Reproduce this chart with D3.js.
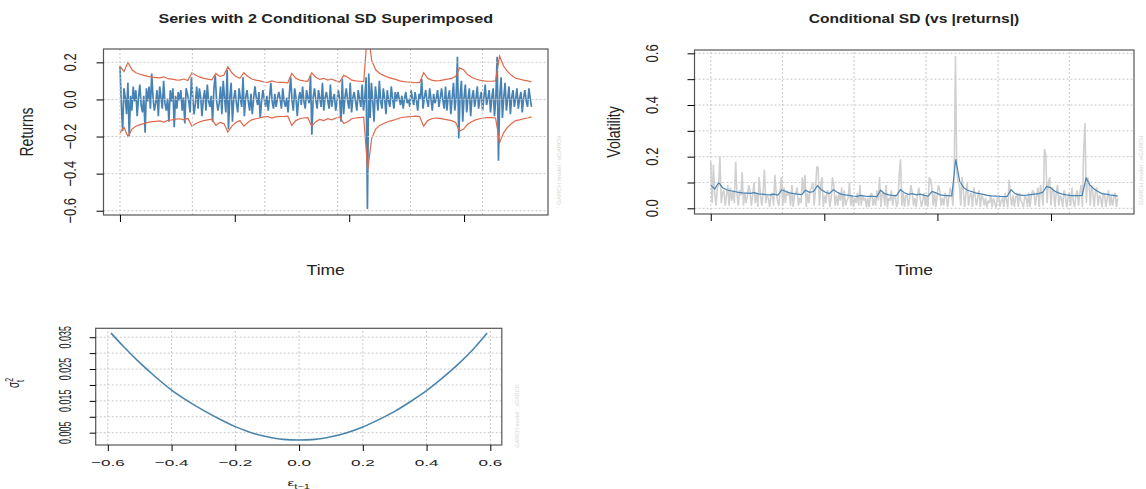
<!DOCTYPE html>
<html>
<head>
<meta charset="utf-8">
<script src="https://cdn.jsdelivr.net/npm/d3@7"></script>
<style>
  body { margin: 0; background: #fff; }
  svg { display: block; font-family: "Liberation Sans", Arial, sans-serif; }
</style>
</head>
<body>
<div id="chart"></div>
<script>
const sigma = [
  0.090,0.075,0.100,0.080,0.072,0.068,0.065,0.062,0.060,0.059,
  0.058,0.061,0.056,0.055,0.053,0.052,0.055,0.051,0.072,0.065,
  0.060,0.057,0.055,0.053,0.070,0.062,0.065,0.088,0.072,0.062,
  0.057,0.072,0.062,0.055,0.052,0.050,0.047,0.046,0.050,0.047,
  0.046,0.046,0.045,0.070,0.057,0.052,0.050,0.049,0.072,0.060,
  0.054,0.057,0.052,0.055,0.050,0.047,0.065,0.060,0.052,0.050,
  0.049,0.048,0.190,0.105,0.080,0.070,0.065,0.060,0.057,0.054,
  0.050,0.048,0.047,0.046,0.045,0.046,0.072,0.057,0.052,0.050,
  0.051,0.053,0.055,0.057,0.062,0.085,0.080,0.067,0.060,0.055,
  0.052,0.050,0.049,0.049,0.050,0.117,0.090,0.075,0.065,0.057,
  0.055,0.052,0.050,0.047
];

// returns (three per sigma step)
const returns = [
  0.18,-0.02,-0.17, 0.06,0.01,-0.08, 0.09,-0.20,0.02, -0.06,0.07,-0.01, 0.05,-0.09,0.01,
  0.08,-0.03,-0.07, 0.02,-0.18,0.06, -0.01,0.07,-0.05, 0.14,0.01,-0.06, -0.02,0.05,-0.09,
  0.07,0.01,-0.05, 0.10,-0.02,-0.06, 0.005,-0.12,0.05, -0.01,0.06,-0.15, 0.02,-0.05,0.04,
  -0.005,0.05,-0.06, 0.01,-0.13,0.06, 0.03,-0.01,-0.07, 0.12,0.01,-0.08, -0.02,0.07,-0.05,
  0.06,0.01,-0.09, 0.005,0.05,-0.06, 0.08,-0.01,-0.04, 0.02,-0.12,0.06, 0.13,-0.005,-0.06,
  -0.02,0.07,-0.08, 0.10,0.01,-0.07, 0.16,-0.16,0.01, 0.09,-0.12,0.005, 0.05,-0.02,-0.07,
  0.06,0.005,-0.04, 0.12,-0.09,0.01, 0.05,-0.01,-0.06, 0.03,-0.08,0.005, 0.07,0.01,-0.03,
  0.04,-0.10,-0.01, 0.05,0.005,-0.04, 0.02,-0.06,0.01, 0.09,-0.01,-0.05, 0.03,-0.04,0.005,
  0.04,0.005,-0.05, 0.06,-0.01,-0.04, 0.01,-0.07,0.03, 0.12,-0.005,-0.06, 0.06,0.01,-0.09,
  0.004,0.04,-0.03, 0.07,-0.01,-0.05, 0.05,0.005,-0.02, 0.13,-0.19,0.01, 0.06,-0.005,-0.05,
  0.05,0.008,-0.04, 0.09,-0.06,0.01, 0.04,-0.005,-0.05, 0.08,-0.04,0.006, 0.03,-0.06,-0.01,
  0.05,0.005,-0.12, 0.11,-0.08,0.01, 0.06,-0.005,-0.05, 0.09,-0.07,0.01, 0.04,-0.01,-0.06,
  0.05,0.005,-0.04, 0.08,-0.06,0.01, 0.12,-0.59,0.14, -0.10,0.09,-0.01, -0.12,0.07,0.005,
  -0.06,0.10,-0.01, -0.05,0.06,0.005, -0.08,0.05,-0.01, -0.04,0.07,0.005, -0.05,0.04,-0.01,
  0.04,0.005,-0.03, 0.02,-0.05,0.004, 0.04,-0.02,0.003, -0.04,0.05,0.006, -0.03,0.04,-0.005,
  -0.06,0.03,0.004, 0.11,-0.05,0.01, 0.05,-0.006,-0.04, 0.06,0.005,-0.06, 0.03,-0.02,0.004,
  0.05,-0.04,0.006, 0.06,-0.005,-0.05, 0.07,-0.06,0.01, 0.05,-0.08,0.005, 0.09,-0.06,0.01,
  0.23,-0.21,0.02, 0.10,-0.12,0.01, 0.08,-0.07,0.005, 0.06,-0.09,0.01, 0.05,-0.04,0.005,
  0.07,-0.05,0.004, 0.04,-0.06,0.01, 0.08,-0.03,0.005, 0.05,-0.07,0.01, 0.06,-0.09,0.005,
  0.23,-0.33,0.02, 0.12,-0.10,0.01, 0.09,-0.06,0.005, 0.07,-0.08,0.01, 0.05,-0.04,0.004,
  0.06,-0.05,0.005, 0.04,-0.07,0.01, 0.05,-0.01,-0.04, 0.06,0.005,-0.04
];

// time axis: tick and grid positions as sample fractions
const timeTicks = [0, 0.279, 0.557, 0.836];
const timeGrid = [0, 0.176, 0.352, 0.529, 0.706, 0.881];

const retTicks = [-0.6, -0.4, -0.2, 0.0, 0.2];
const volTicks = [0, 0.1, 0.2, 0.3, 0.4, 0.5, 0.6];
const volLabels = [0, 0.2, 0.4, 0.6];

// news impact curve
const nicEps = [-0.59,-0.55,-0.5,-0.45,-0.4,-0.35,-0.3,-0.25,-0.2,-0.15,-0.1,-0.05,0,
                0.05,0.1,0.15,0.2,0.25,0.3,0.35,0.4,0.45,0.5,0.55,0.59];
const nicVar = [0.0363,0.0320,0.0270,0.0225,0.0184,0.0150,0.0120,0.0093,0.0069,0.0050,0.0037,0.0029,0.0027,
                0.0029,0.0037,0.0050,0.0068,0.0091,0.0117,0.0148,0.0182,0.0222,0.0266,0.0316,0.0363];
const epsTicks = [-0.6, -0.4, -0.2, 0.0, 0.2, 0.4, 0.6];
const varTicks = [0.005, 0.010, 0.015, 0.020, 0.025, 0.030, 0.035];
const varLabels = [0.005, 0.015, 0.025, 0.035];

const W = 1146, H = 489;
const blue = "#4682b4", red = "#e0684a", gridCol = "#c8c8c8";

const svg = d3.select("#chart").append("svg")
    .attr("width", W)
    .attr("height", H);

// text helper, the picture is stretched sideways so glyphs get an x scale
function label(g, x, y, txt, o) {
    const t = g.append("text")
        .attr("transform", `translate(${x},${y}) scale(${o.sx || 1},1)` + (o.rot ? " rotate(-90)" : ""))
        .attr("text-anchor", o.anchor || "middle")
        .style("font-size", o.size + "px")
        .style("font-weight", o.bold ? "bold" : "normal")
        .attr("fill", o.fill || "#222");
    if (typeof txt === "string") t.text(txt);
    else txt(t);
    return t;
}

function panel(id, x, y) {
    const g = svg.append("g");
    g.append("clipPath").attr("id", id)
      .append("rect")
        .attr("x", x.range()[0]).attr("y", y.range()[1])
        .attr("width", x.range()[1] - x.range()[0])
        .attr("height", y.range()[0] - y.range()[1]);
    return g;
}

function drawGrid(g, x, y, xs, ys, id) {
    const gg = g.append("g").attr("clip-path", `url(#${id})`);
    gg.selectAll(".vg").data(xs).enter().append("line")
        .attr("x1", d => x(d)).attr("x2", d => x(d))
        .attr("y1", y.range()[0]).attr("y2", y.range()[1])
        .attr("stroke", gridCol).attr("stroke-dasharray", "2,2");
    gg.selectAll(".hg").data(ys).enter().append("line")
        .attr("y1", d => y(d)).attr("y2", d => y(d))
        .attr("x1", x.range()[0]).attr("x2", x.range()[1])
        .attr("stroke", gridCol).attr("stroke-dasharray", "2,2");
}

function drawBox(g, x, y) {
    g.append("rect")
        .attr("x", x.range()[0]).attr("y", y.range()[1])
        .attr("width", x.range()[1] - x.range()[0])
        .attr("height", y.range()[0] - y.range()[1])
        .attr("fill", "none").attr("stroke", "#555").attr("stroke-width", 1.2);
}

const tS = i => i / (sigma.length - 1);
const tR = i => i / (returns.length - 1);

// ---------------- panel 1: series with 2 conditional sd ----------------
{
    const x = d3.scaleLinear().domain([-0.04, 1.04]).range([103.5, 548]);
    const y = d3.scaleLinear().domain([-0.623, 0.272]).range([215, 49]);
    const g = panel("clip1", x, y);
    const inner = g.append("g").attr("clip-path", "url(#clip1)");

    inner.append("path")
        .datum(returns)
        .attr("d", d3.line().x((d, i) => x(tR(i))).y(d => y(d)))
        .attr("fill", "none").attr("stroke", blue).attr("stroke-width", 1.7)
        .attr("stroke-linejoin", "bevel");

    const band = s => d3.line().x((d, i) => x(tS(i))).y(d => y(s * 2 * d));
    inner.append("path").datum(sigma).attr("d", band(1))
        .attr("fill", "none").attr("stroke", red).attr("stroke-width", 1.2);
    inner.append("path").datum(sigma).attr("d", band(-1))
        .attr("fill", "none").attr("stroke", red).attr("stroke-width", 1.2);

    drawGrid(g, x, y, timeGrid, retTicks, "clip1");
    drawBox(g, x, y);

    g.append("g").attr("transform", `translate(0,${y.range()[0]})`)
        .call(d3.axisBottom(x).tickValues(timeTicks).tickSize(7).tickFormat(""))
        .call(a => a.select(".domain").remove());
    g.append("g").attr("transform", `translate(${x.range()[0]},0)`)
        .call(d3.axisLeft(y).tickValues(retTicks).tickSize(7).tickFormat(""))
        .call(a => a.select(".domain").remove());

    retTicks.forEach(v => label(g, 75.5, y(v), d3.format(".1f")(v), {size: 13, sx: 1.3, rot: true}));
    label(g, 33, 132, "Returns", {size: 14, sx: 1.25, rot: true});
    label(g, 325.7, 275, "Time", {size: 14, sx: 1.25});
    label(g, 325.7, 22.5, "Series with 2 Conditional SD Superimposed", {size: 13, sx: 1.24, bold: true});
    label(g, 561, 170, "GARCH model : sGARCH", {size: 6, rot: true, fill: "#d4d4d4"});
}

// ---------------- panel 2: conditional sd vs |returns| ----------------
{
    const x = d3.scaleLinear().domain([-0.04, 1.04]).range([694.5, 1134]);
    const y = d3.scaleLinear().domain([-0.022, 0.613]).range([214, 50]);
    const g = panel("clip2", x, y);
    const inner = g.append("g").attr("clip-path", "url(#clip2)");

    inner.append("path")
        .datum(returns)
        .attr("d", d3.line().x((d, i) => x(tR(i))).y(d => y(Math.abs(d))))
        .attr("fill", "none").attr("stroke", "#d0d0d0").attr("stroke-width", 1.6)
        .attr("stroke-linejoin", "bevel");
    inner.append("path")
        .datum(sigma)
        .attr("d", d3.line().x((d, i) => x(tS(i))).y(d => y(d)))
        .attr("fill", "none").attr("stroke", blue).attr("stroke-width", 1.2);

    drawGrid(g, x, y, timeGrid, volTicks, "clip2");
    drawBox(g, x, y);

    g.append("g").attr("transform", `translate(0,${y.range()[0]})`)
        .call(d3.axisBottom(x).tickValues(timeTicks).tickSize(7).tickFormat(""))
        .call(a => a.select(".domain").remove());
    g.append("g").attr("transform", `translate(${x.range()[0]},0)`)
        .call(d3.axisLeft(y).tickValues(volTicks).tickSize(7).tickFormat(""))
        .call(a => a.select(".domain").remove());

    volLabels.forEach(v => label(g, 657.5, y(v), d3.format(".1f")(v), {size: 13, sx: 1.3, rot: true}));
    label(g, 620, 132, "Volatility", {size: 14, sx: 1.25, rot: true});
    label(g, 914, 275, "Time", {size: 14, sx: 1.25});
    label(g, 914, 22.5, "Conditional SD (vs |returns|)", {size: 13, sx: 1.2, bold: true});
    label(g, 1143, 170, "GARCH model : sGARCH", {size: 6, rot: true, fill: "#d4d4d4"});
}

// ---------------- panel 3: news impact curve ----------------
{
    const x = d3.scaleLinear().domain([-0.638, 0.636]).range([95.7, 501.8]);
    const y = d3.scaleLinear().domain([0.00113, 0.0378]).range([445, 328.3]);
    const g = panel("clip3", x, y);

    drawGrid(g, x, y, epsTicks, varTicks, "clip3");

    g.append("g").attr("clip-path", "url(#clip3)")
      .append("path")
        .datum(nicEps.map((e, i) => [e, nicVar[i]]))
        .attr("d", d3.line().curve(d3.curveMonotoneX).x(d => x(d[0])).y(d => y(d[1])))
        .attr("fill", "none").attr("stroke", "#4a84ad").attr("stroke-width", 1.6);

    drawBox(g, x, y);

    g.append("g").attr("transform", `translate(0,${y.range()[0]})`)
        .call(d3.axisBottom(x).tickValues(epsTicks).tickSize(6).tickFormat(""))
        .call(a => a.select(".domain").remove());
    g.append("g").attr("transform", `translate(${x.range()[0]},0)`)
        .call(d3.axisLeft(y).tickValues(varTicks).tickSize(6).tickFormat(""))
        .call(a => a.select(".domain").remove());

    epsTicks.forEach(v => label(g, x(v), 465.5, d3.format(".1f")(v), {size: 9.5, sx: 1.8}));
    varLabels.forEach(v => label(g, 71, y(v), d3.format(".3f")(v), {size: 9, sx: 1.8, rot: true}));

    label(g, 298.7, 486, t => {
        t.append("tspan").text("\u03b5");
        t.append("tspan").attr("dy", 3).style("font-size", "7px").text("t\u22121");
    }, {size: 9.5, sx: 1.6});
    label(g, 19, 383, t => {
        t.append("tspan").text("\u03c3");
        t.append("tspan").attr("dy", -4).style("font-size", "7px").text("2");
        t.append("tspan").attr("dx", -4).attr("dy", 7).style("font-size", "7px").text("t");
    }, {size: 10, sx: 1.6, rot: true});
    label(g, 519, 416, "GARCH model : sGARCH", {size: 5.5, rot: true, fill: "#d8d8d8"});
}
</script>
</body>
</html>
